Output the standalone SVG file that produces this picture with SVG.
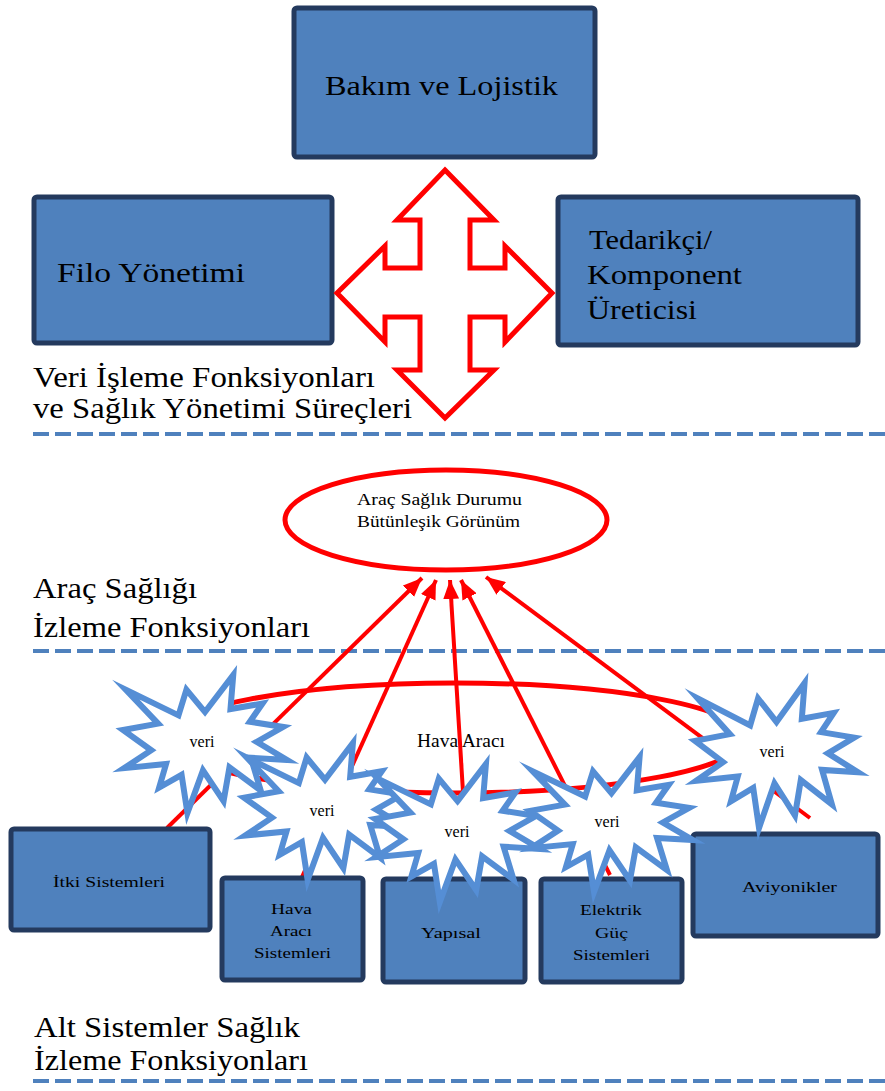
<svg xmlns="http://www.w3.org/2000/svg" xmlns:xlink="http://www.w3.org/1999/xlink" width="885" height="1091" viewBox="0 0 885 1091">
<style>
.box{fill:#4f81bd;stroke:#243a5e;stroke-width:5;}
.t{font-family:"Liberation Serif","Times New Roman",serif;fill:#000;}
.big{font-size:27px;}
.sec{font-size:29px;}
.sm{font-size:15px;}
.dash{stroke:#4f81bd;stroke-width:4;stroke-dasharray:16 6;fill:none;}
.red{stroke:#ff0000;fill:none;}
.conn{stroke:#ff0000;stroke-width:4;fill:none;marker-end:url(#ah);}
.seal{fill:#fff;stroke:#558ed5;stroke-width:6;vector-effect:non-scaling-stroke;stroke-linejoin:miter;stroke-miterlimit:10;}
</style>
<defs>
<marker id="ah" markerUnits="userSpaceOnUse" markerWidth="20" markerHeight="16" refX="19" refY="8" orient="auto">
<path d="M0,0 L19,8 L0,16 Z" fill="#ff0000"/>
</marker>
<path id="seal" class="seal" d="M50 26.85 L67.23 0 L65.53 24.65 L85.09 20.63 L77.32 33.87 L97.67 37.67 L81.51 48.5 L100 61.53 L77.95 59.92 L84 83.77 L64.91 66.93 L61.33 91.38 L48.76 69.14 L39.28 100 L35.72 72.35 L22.05 81.56 L26.24 64.52 L0.625 67.53 L17.23 54.51 L0 39.88 L21.42 35.26 L1.71 10.63 L33.85 29.26 L38.67 10.63 Z"/>
</defs>
<rect width="885" height="1091" fill="#fff"/>

<g id="section-lines">
<line class="dash" x1="33" y1="434" x2="885" y2="434"/>
<line class="dash" x1="33" y1="651" x2="885" y2="651"/>
<line class="dash" x1="33" y1="1081" x2="885" y2="1081"/>
</g>

<g id="section-labels">
<text class="t sec" x="33" y="387" textLength="342" lengthAdjust="spacingAndGlyphs">Veri İşleme Fonksiyonları</text>
<text class="t sec" x="33" y="418" textLength="379" lengthAdjust="spacingAndGlyphs">ve Sağlık Yönetimi Süreçleri</text>
<text class="t sec" x="33" y="598" textLength="164" lengthAdjust="spacingAndGlyphs">Araç Sağlığı</text>
<text class="t sec" x="33" y="637" textLength="277" lengthAdjust="spacingAndGlyphs">İzleme Fonksiyonları</text>
<text class="t sec" x="34" y="1037" textLength="266" lengthAdjust="spacingAndGlyphs">Alt Sistemler Sağlık</text>
<text class="t sec" x="34" y="1070" textLength="274" lengthAdjust="spacingAndGlyphs">İzleme Fonksiyonları</text>
</g>

<g id="bakim">
<rect class="box" x="294" y="8" width="301" height="149" rx="3"/>
<text class="t big" x="325" y="95" textLength="233" lengthAdjust="spacingAndGlyphs">Bakım ve Lojistik</text>
</g>
<g id="filo">
<rect class="box" x="34" y="197" width="298" height="146" rx="3"/>
<text class="t big" x="57" y="282" textLength="188" lengthAdjust="spacingAndGlyphs">Filo Yönetimi</text>
</g>
<g id="tedarikci">
<rect class="box" x="558" y="197" width="300" height="148" rx="3"/>
<text class="t big" x="589" y="249" textLength="123" lengthAdjust="spacingAndGlyphs">Tedarikçi/</text>
<text class="t big" x="587" y="284" textLength="155" lengthAdjust="spacingAndGlyphs">Komponent</text>
<text class="t big" x="587" y="319" textLength="110" lengthAdjust="spacingAndGlyphs">Üreticisi</text>
</g>

<g id="cross-arrow">
<polygon class="red" stroke-width="5" fill="#fff" points="445,170 494,220 470,220 470,268 505,268 505,246 552,293 505,342 505,317 470,317 470,370 494,370 445,418 397,370 420,370 420,317 385,317 385,342 337,293 385,246 385,268 420,268 420,220 397,220"/>
</g>

<g id="arac-saglik">
<ellipse cx="446" cy="520" rx="161" ry="50" fill="#fff" stroke="#ff0000" stroke-width="5"/>
<text class="t" font-size="16" x="357" y="505" textLength="165" lengthAdjust="spacingAndGlyphs">Araç Sağlık Durumu</text>
<text class="t" font-size="16" x="357" y="527" textLength="163" lengthAdjust="spacingAndGlyphs">Bütünleşik Görünüm</text>
</g>

<g id="hava-araci">
<ellipse class="red" cx="455" cy="738" rx="290" ry="55" stroke-width="5"/>
<text class="t" font-size="18" x="417" y="747" textLength="88" lengthAdjust="spacingAndGlyphs">Hava Aracı</text>
</g>

<g id="connectors">
<line class="conn" x1="167" y1="828" x2="422" y2="578"/>
<line class="conn" x1="302" y1="877" x2="436" y2="580"/>
<line class="conn" x1="463" y1="792" x2="450" y2="580"/>
<line class="conn" x1="610" y1="875" x2="461" y2="580"/>
<line class="conn" x1="810" y1="818" x2="486" y2="577"/>
</g>

<g id="itki">
<rect class="box" x="11" y="829" width="199" height="101" rx="3"/>
<text class="t sm" x="53" y="887" textLength="112" lengthAdjust="spacingAndGlyphs">İtki Sistemleri</text>
</g>
<g id="hava-araci-sistemleri">
<rect class="box" x="222" y="878" width="141" height="102" rx="3"/>
<text class="t sm" x="271" y="914" textLength="41" lengthAdjust="spacingAndGlyphs">Hava</text>
<text class="t sm" x="270" y="936" textLength="42" lengthAdjust="spacingAndGlyphs">Aracı</text>
<text class="t sm" x="254" y="958" textLength="77" lengthAdjust="spacingAndGlyphs">Sistemleri</text>
</g>
<g id="yapisal">
<rect class="box" x="383" y="879" width="142" height="103" rx="3"/>
<text class="t sm" x="421" y="938" textLength="60" lengthAdjust="spacingAndGlyphs">Yapısal</text>
</g>
<g id="elektrik">
<rect class="box" x="541" y="879" width="141" height="103" rx="3"/>
<text class="t sm" x="580" y="915" textLength="62" lengthAdjust="spacingAndGlyphs">Elektrik</text>
<text class="t sm" x="595" y="938" textLength="33" lengthAdjust="spacingAndGlyphs">Güç</text>
<text class="t sm" x="573" y="960" textLength="77" lengthAdjust="spacingAndGlyphs">Sistemleri</text>
</g>
<g id="aviyonikler">
<rect class="box" x="693" y="834" width="185" height="102" rx="3"/>
<text class="t sm" x="742" y="892" textLength="95" lengthAdjust="spacingAndGlyphs">Aviyonikler</text>
</g>

<g id="veri-1">
<use xlink:href="#seal" href="#seal" transform="translate(123 675) scale(1.64 1.38)"/>
<text class="t" font-size="16" x="202" y="747" text-anchor="middle">veri</text>
</g>
<g id="veri-2">
<use xlink:href="#seal" href="#seal" transform="translate(244 743) scale(1.62 1.37)"/>
<text class="t" font-size="16" x="322" y="816" text-anchor="middle">veri</text>
</g>
<g id="veri-3">
<use xlink:href="#seal" href="#seal" transform="translate(375 764) scale(1.65 1.38)"/>
<text class="t" font-size="16" x="457" y="837" text-anchor="middle">veri</text>
</g>
<g id="veri-4">
<use xlink:href="#seal" href="#seal" transform="translate(530 757) scale(1.63 1.35)"/>
<text class="t" font-size="16" x="607" y="827" text-anchor="middle">veri</text>
</g>
<g id="veri-5">
<use xlink:href="#seal" href="#seal" transform="translate(695 683) scale(1.63 1.45)"/>
<text class="t" font-size="16" x="772" y="757" text-anchor="middle">veri</text>
</g>
</svg>
